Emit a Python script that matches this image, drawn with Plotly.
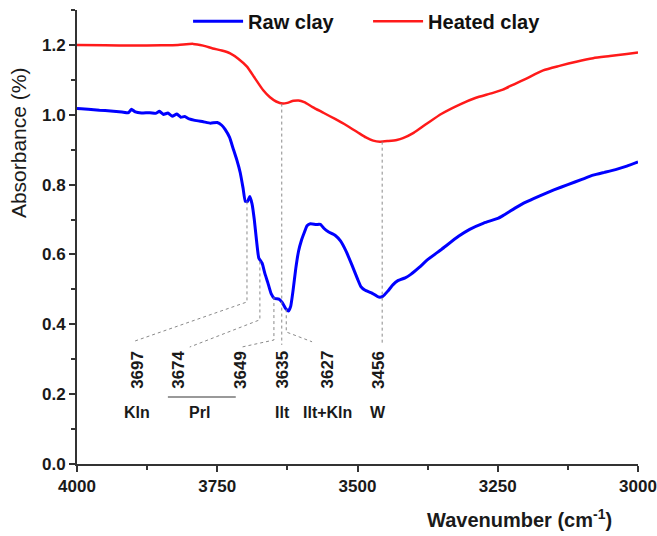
import plotly.graph_objects as go

# FTIR spectra, OH-stretching region
raw_wn = [4000, 3980, 3960, 3940, 3920, 3908, 3903, 3896, 3885, 3870, 3860, 3853,
          3846, 3838, 3830, 3822, 3815, 3808, 3800, 3790, 3775, 3762, 3750, 3742,
          3736, 3728, 3722, 3715, 3709, 3704, 3700, 3696, 3692, 3688, 3684, 3680,
          3676, 3670, 3665, 3660, 3654, 3648, 3640, 3634, 3628, 3623, 3619, 3615,
          3610, 3605, 3600, 3595, 3590, 3584, 3574, 3566, 3560, 3552, 3540, 3530,
          3520, 3510, 3500, 3494, 3487, 3475, 3462, 3455, 3446, 3437, 3428, 3415,
          3405, 3390, 3375, 3350, 3320, 3300, 3275, 3250, 3240, 3220, 3200, 3175,
          3150, 3125, 3100, 3080, 3060, 3040, 3020, 3000]
raw_abs = [1.018, 1.016, 1.013, 1.011, 1.008, 1.006, 1.016, 1.008, 1.005, 1.006, 1.004, 1.010,
           1.001, 1.005, 0.996, 1.002, 0.993, 0.995, 0.988, 0.984, 0.980, 0.976, 0.978, 0.970,
           0.958, 0.935, 0.905, 0.870, 0.834, 0.790, 0.752, 0.752, 0.766, 0.745, 0.700, 0.640,
           0.590, 0.575, 0.545, 0.520, 0.488, 0.474, 0.472, 0.462, 0.445, 0.438, 0.452, 0.495,
           0.560, 0.610, 0.640, 0.662, 0.682, 0.688, 0.686, 0.686, 0.675, 0.665, 0.655, 0.638,
           0.608, 0.570, 0.530, 0.508, 0.498, 0.490, 0.478, 0.480, 0.495, 0.513, 0.525, 0.533,
           0.543, 0.563, 0.585, 0.615, 0.652, 0.672, 0.690, 0.703, 0.712, 0.732, 0.750, 0.768,
           0.785, 0.800, 0.815, 0.827, 0.835, 0.843, 0.853, 0.865]

heated_wn = [4000, 3950, 3900, 3850, 3820, 3793, 3775, 3758, 3742, 3727, 3712, 3697,
             3683, 3668, 3656, 3645, 3633, 3625, 3614, 3605, 3595, 3580, 3560, 3540,
             3520, 3500, 3485, 3472, 3460, 3445, 3430, 3419, 3400, 3376, 3350, 3317,
             3290, 3260, 3241, 3220, 3200, 3169, 3140, 3110, 3080, 3050, 3020, 3000]
heated_abs = [1.200, 1.199, 1.198, 1.199, 1.200, 1.203, 1.198, 1.190, 1.184, 1.176, 1.160, 1.138,
              1.105, 1.070, 1.050, 1.038, 1.032, 1.034, 1.040, 1.041, 1.036, 1.022, 1.005, 0.988,
              0.970, 0.950, 0.935, 0.926, 0.923, 0.925, 0.928, 0.933, 0.948, 0.975, 1.003, 1.030,
              1.048, 1.062, 1.072, 1.088, 1.103, 1.127, 1.140, 1.152, 1.162, 1.168, 1.174, 1.178]

# Assigned bands
band_wn = [3697, 3674, 3649, 3635, 3627, 3456]
band_label = ["3697", "3674", "3649", "3635", "3627", "3456"]
assign_label = ["Kln", "Prl", "Ilt", "Ilt+Kln", "W"]

# Leader geometry per band: (start y on curve, knee y, label x, label end y)
leader_start = [0.752, 0.580, 0.478, 1.032, 0.443, 0.923]
leader_knee = [0.464, 0.413, 0.355, 0.341, 0.378, 0.341]
leader_end_x = [3897, 3799, 3706, 3635, 3581, 3456]
leader_end_y = [0.352, 0.335, 0.335, 0.341, 0.350, 0.341]
num_label_x = [3891, 3818, 3709, 3633, 3553, 3463]
assign_x = [3893, 3782, 3633, 3553, 3463]

FONT = "Liberation Sans, Arial, sans-serif"
INK = "#1a1a1a"

fig = go.Figure()
fig.add_trace(go.Scatter(x=raw_wn, y=raw_abs, mode="lines", name="Raw clay",
                         line=dict(color="#0000FF", width=3, shape="spline", smoothing=0.4)))
fig.add_trace(go.Scatter(x=heated_wn, y=heated_abs, mode="lines", name="Heated clay",
                         line=dict(color="#FF1A1A", width=2.5, shape="spline", smoothing=0.6)))

# dotted leader lines from the bands down to their labels
for i, wn in enumerate(band_wn):
    fig.add_trace(go.Scatter(
        x=[wn, wn, leader_end_x[i]],
        y=[leader_start[i], leader_knee[i], leader_end_y[i]],
        mode="lines", showlegend=False, hoverinfo="skip",
        line=dict(color="#8a8a8a", width=1, dash="dot")))

for i, txt in enumerate(band_label):
    fig.add_annotation(x=num_label_x[i], y=0.27, text=txt, textangle=-90,
                       showarrow=False, xanchor="center", yanchor="middle",
                       font=dict(family=FONT, size=17, color=INK, weight="bold"))

for i, txt in enumerate(assign_label):
    fig.add_annotation(x=assign_x[i], y=0.148, text=txt, showarrow=False,
                       xanchor="center", yanchor="middle",
                       font=dict(family=FONT, size=16, color=INK, weight="bold"))

# bracket grouping the two pyrophyllite bands
fig.add_shape(type="line", x0=3838, x1=3717, y0=0.192, y1=0.192,
              line=dict(color="#777777", width=1.5))

fig.add_annotation(xref="paper", yref="paper", x=-0.105, y=0.707, text="Absorbance (%)",
                   textangle=-90, showarrow=False, xanchor="center", yanchor="middle",
                   font=dict(family=FONT, size=21, color=INK))
fig.add_annotation(xref="paper", yref="paper", x=0.788, y=-0.12,
                   text="Wavenumber (cm<sup>-1</sup>)", showarrow=False,
                   xanchor="center", yanchor="middle",
                   font=dict(family=FONT, size=20, color=INK, weight="bold"))

axis_common = dict(showgrid=False, zeroline=False, showline=True, linecolor="#333333",
                   linewidth=2, ticks="outside", ticklen=6, tickwidth=2, tickcolor="#333333",
                   automargin=False, ticklabeloverflow="allow",
                   tickfont=dict(family=FONT, size=17, color=INK, weight="bold"),
                   minor=dict(ticks="outside", ticklen=4, tickwidth=2, tickcolor="#333333"))

fig.update_xaxes(range=[4000, 3000], tick0=3000, dtick=250,
                 minor_dtick=125, **axis_common)
fig.update_yaxes(range=[0, 1.3], tick0=0, dtick=0.2, tickformat=".1f",
                 minor_dtick=0.1, **axis_common)

fig.update_layout(
    width=657, height=536,
    margin=dict(l=77, r=19, t=10, b=72, autoexpand=False),
    plot_bgcolor="white", paper_bgcolor="white",
    legend=dict(orientation="h", x=0.198, y=1.018, xanchor="left", yanchor="top",
                font=dict(family=FONT, size=20, color="#111111", weight="bold"),
                bgcolor="rgba(0,0,0,0)", itemwidth=50, entrywidth=115),
)

fig.write_html("out.html")
